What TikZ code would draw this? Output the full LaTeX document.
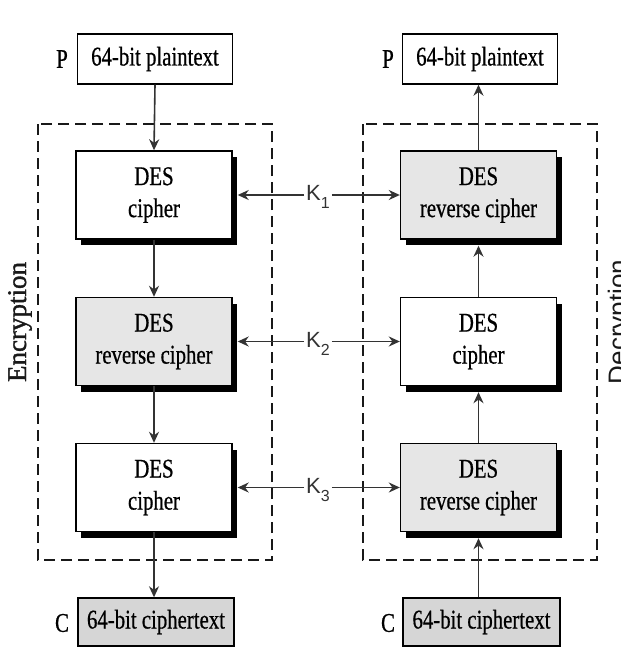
\documentclass[tikz,border=0pt]{standalone}
\usepackage{fontspec}
\setmainfont{Liberation Serif}[FakeStretch=0.77,FakeBold=0.6]
\newfontfamily\encfont{Liberation Serif}[FakeBold=1.2]
\newfontfamily\ksans{Liberation Sans}
\usetikzlibrary{shadows,arrows.meta}
\definecolor{boxgray}{HTML}{E6E6E6}
\definecolor{ctgray}{HTML}{D6D6D6}
\definecolor{lnk}{HTML}{333333}
\begin{document}
\begin{tikzpicture}[x=1pt,y=-1pt,
  txt/.style={font=\fontsize{27}{32}\selectfont, text=black},
  desbox/.style={txt, draw=black, line width=1.4pt, minimum width=156pt, minimum height=88pt,
    align=center, inner sep=0pt, fill=white,
    drop shadow={shadow xshift=5pt, shadow yshift=-6pt, fill=black, opacity=1}},
  revbox/.style={desbox, fill=boxgray},
  iobox/.style={txt, draw=black, line width=1.4pt, minimum width=155pt, minimum height=50pt, inner sep=0pt},
  conn/.style={draw=lnk, line width=1.6pt, -{Stealth[length=11pt,width=10pt]}},
  frame/.style={draw=black!90, line width=2.6pt, dash pattern=on 11pt off 6pt},
  klab/.style={font=\ksans\fontsize{22}{22}\selectfont, text=lnk, inner sep=2pt, anchor=base west},
  side/.style={rotate=90, font=\encfont\fontsize{27}{27}\selectfont, text=black!90}
]
\useasboundingbox[fill=white] (0,0) rectangle (621,648);

% dashed frames
\draw[frame] (38,124) rectangle (272,560);
\draw[frame] (363,124) rectangle (597,560);

% side labels
\node[side] (enc) at (20,322) {Encryption};
\node[side, font=\ksans\fontsize{26}{26}\selectfont] (dec) at (620,322) {Decryption};

% left column
\node[iobox, fill=white] (lp) at (155,59) {64-bit plaintext};
\node[txt] (lP) at (62,59) {P};
\node[desbox] (l1) at (154,195) {DES\\cipher};
\node[revbox] (l2) at (154,341.5) {DES\\reverse cipher};
\node[desbox] (l3) at (154,487.5) {DES\\cipher};
\node[iobox, fill=ctgray, minimum width=156pt, minimum height=48pt] (lc) at (156,622) {64-bit ciphertext};
\node[txt] (lC) at (62,623) {C};

% right column
\node[iobox, fill=white] (rp) at (480,59) {64-bit plaintext};
\node[txt] (rP) at (388,59) {P};
\node[revbox] (r1) at (478.5,195) {DES\\reverse cipher};
\node[desbox] (r2) at (478.5,341.5) {DES\\cipher};
\node[revbox] (r3) at (478.5,487.5) {DES\\reverse cipher};
\node[iobox, fill=ctgray, minimum width=157pt, minimum height=48pt] (rc) at (481.5,622) {64-bit ciphertext};
\node[txt] (rC) at (388,623) {C};

% vertical flow
\draw[conn] (lp.south) -- (l1.north);
\draw[conn] (l1.south) -- (l2.north);
\draw[conn] (l2.south) -- (l3.north);
\draw[conn] (l3.south) -- (l3.south |- lc.north);
\draw[conn] (rc.north -| r3.south) -- ([yshift=-6pt]r3.south);
\draw[conn] (r3.north) -- ([yshift=-6pt]r2.south);
\draw[conn] (r2.north) -- ([yshift=-6pt]r1.south);
\draw[conn] (r1.north) -- (r1.north |- rp.south);

% keys
\node[klab] (k1) at (304,200) {K\raisebox{-8pt}{\fontsize{16}{16}\selectfont 1}};
\node[klab] (k2) at (304,347) {K\raisebox{-8pt}{\fontsize{16}{16}\selectfont 2}};
\node[klab] (k3) at (304,493) {K\raisebox{-8pt}{\fontsize{16}{16}\selectfont 3}};
\draw[conn] (k1.west |- l1.east) -- ([xshift=5pt]l1.east);
\draw[conn] (k1.east |- r1.west) -- (r1.west);
\draw[conn] (k2.west |- l2.east) -- ([xshift=5pt]l2.east);
\draw[conn] (k2.east |- r2.west) -- (r2.west);
\draw[conn] (k3.west |- l3.east) -- ([xshift=5pt]l3.east);
\draw[conn] (k3.east |- r3.west) -- (r3.west);
\end{tikzpicture}
\end{document}
